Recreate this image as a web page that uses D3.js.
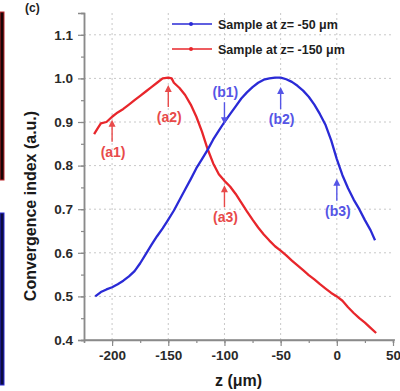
<!DOCTYPE html>
<html>
<head>
<meta charset="utf-8">
<script src="https://cdn.jsdelivr.net/npm/d3@7"></script>
<style>
  body { margin: 0; background: #fff; }
  svg { display: block; font-family: Arial, "Liberation Sans", sans-serif; font-weight: bold; }
</style>
</head>
<body>
<div id="chart"></div>
<script>
// z positions (μm) and convergence index for the two samples
const blueZ = [-215, -210, -205, -200, -195, -190, -185, -180, -175, -170, -165, -160, -155, -150, -145, -140, -135, -130, -125, -120, -115, -110, -105, -100, -95, -90, -85, -80, -75, -70, -65, -60, -55, -50, -45, -40, -35, -30, -25, -20, -15, -10, -5, 0, 5, 10, 15, 20, 25, 30, 34]
const blueV = [0.500, 0.510, 0.516, 0.521, 0.528, 0.536, 0.546, 0.558, 0.576, 0.597, 0.618, 0.638, 0.656, 0.676, 0.697, 0.721, 0.745, 0.769, 0.794, 0.815, 0.836, 0.860, 0.880, 0.900, 0.918, 0.936, 0.954, 0.968, 0.980, 0.990, 0.997, 1.000, 1.002, 1.002, 0.998, 0.992, 0.983, 0.972, 0.958, 0.940, 0.918, 0.893, 0.858, 0.815, 0.778, 0.748, 0.722, 0.700, 0.675, 0.652, 0.629]

const redZ = [-216, -213, -210, -205, -200, -195, -190, -185, -180, -175, -170, -165, -160, -155, -150, -147, -145, -140, -135, -130, -125, -120, -115, -110, -105, -100, -95, -90, -85, -80, -75, -70, -65, -60, -55, -50, -45, -40, -35, -30, -25, -20, -15, -10, -5, 0, 5, 10, 15, 20, 25, 30, 35]
const redV = [0.872, 0.885, 0.897, 0.900, 0.912, 0.922, 0.930, 0.940, 0.950, 0.960, 0.970, 0.980, 0.990, 1.000, 1.002, 1.000, 0.990, 0.978, 0.962, 0.940, 0.912, 0.878, 0.838, 0.805, 0.780, 0.765, 0.752, 0.735, 0.715, 0.695, 0.676, 0.658, 0.642, 0.628, 0.615, 0.605, 0.594, 0.582, 0.571, 0.560, 0.549, 0.539, 0.528, 0.518, 0.508, 0.500, 0.490, 0.475, 0.462, 0.450, 0.440, 0.428, 0.416]

const xTicks = [-200, -150, -100, -50, 0, 50]
const yTicks = [0.4, 0.5, 0.6, 0.7, 0.8, 0.9, 1.0, 1.1]
const legendLabels = ["Sample at z= -50 μm", "Sample at z= -150 μm"]

// annotations: label, z, value of the arrow tip, direction
const annRed = [
  { label: "(a1)", z: -200, v: 0.905, dir: "up" },
  { label: "(a2)", z: -150, v: 0.985, dir: "up" },
  { label: "(a3)", z: -100, v: 0.755, dir: "up" }
]
const annBlue = [
  { label: "(b1)", z: -100, v: 0.895, dir: "down" },
  { label: "(b2)", z: -50, v: 0.980, dir: "up" },
  { label: "(b3)", z: 0, v: 0.770, dir: "up" }
]

const RED = "#e8262b", BLUE = "#2a2ad6"
const RED_TXT = "#e84a4a", BLUE_TXT = "#5555e6"

const W = 400, H = 391
const margin = { top: 13, right: 7, bottom: 51, left: 84 }
const width = W - margin.left - margin.right,
    height = H - margin.top - margin.bottom

const svg = d3.select("#chart").append("svg")
    .attr("width", W)
    .attr("height", H)

// leftover edges of neighbouring panels
svg.append("rect").attr("x", 0).attr("y", 12).attr("width", 4).attr("height", 168)
    .attr("fill", "#1a0505").attr("stroke", "#c0282c").attr("stroke-width", 1)
svg.append("rect").attr("x", 0).attr("y", 213).attr("width", 4).attr("height", 172)
    .attr("fill", "#0c0c40").attr("stroke", "#2a2ad6").attr("stroke-width", 1)
svg.append("text").attr("x", 25).attr("y", 12).attr("font-size", 12).attr("fill", "#222").text("(c)")

const g = svg.append("g").attr("transform", "translate(" + margin.left + "," + margin.top + ")")

const x = d3.scaleLinear().domain([-225, 50]).range([0, 309])
const y = d3.scaleLinear().domain([0.4, 1.15]).range([height, 0])

// grid
g.append("g").selectAll("line").data(xTicks.filter(d => d > -225 && d < 50)).join("line")
    .attr("x1", d => x(d)).attr("x2", d => x(d)).attr("y1", 0).attr("y2", height)
    .attr("stroke", "#c8c8c8").attr("stroke-dasharray", "2,3")
g.append("g").selectAll("line").data(yTicks.filter(d => d > 0.4)).join("line")
    .attr("x1", 0).attr("x2", 309).attr("y1", d => y(d)).attr("y2", d => y(d))
    .attr("stroke", "#c8c8c8").attr("stroke-dasharray", "2,3")

// axes
const xAxis = g.append("g").attr("transform", "translate(0," + height + ")")
xAxis.call(d3.axisBottom(x).tickValues(d3.range(-225, 51, 25)).tickSize(3).tickFormat(""))
const xMain = g.append("g").attr("transform", "translate(0," + height + ")")
    .call(d3.axisBottom(x).tickValues(xTicks).tickSize(6).tickPadding(4).tickFormat(d => d))
const yAxis = g.append("g")
yAxis.call(d3.axisLeft(y).tickValues(d3.range(0.4, 1.16, 0.05)).tickSize(3).tickFormat(""))
const yMain = g.append("g")
    .call(d3.axisLeft(y).tickValues(yTicks).tickSize(6).tickPadding(5).tickFormat(d3.format(".1f")))

g.selectAll(".domain").attr("stroke", "#8a8a8a").attr("stroke-width", 1.5)
g.selectAll(".tick line").attr("stroke", "#8a8a8a").attr("stroke-width", 1.2)
g.selectAll(".tick text").attr("font-size", 13.5).attr("fill", "#2a2a2a").attr("font-weight", "bold")
xMain.selectAll(".domain").attr("d", "M0,0H311")

// axis titles
g.append("text").attr("x", 309 / 2).attr("y", height + 46).attr("text-anchor", "middle")
    .attr("font-size", 16).attr("fill", "#1a1a1a").text("z (μm)")
svg.append("text").attr("transform", "translate(36,206) rotate(-90)").attr("text-anchor", "middle")
    .attr("font-size", 16).attr("fill", "#1a1a1a").text("Convergence index (a.u.)")

// curves
const line = d3.line().x(d => x(d[0])).y(d => y(d[1]))
const blueData = d3.zip(blueZ, blueV), redData = d3.zip(redZ, redV)
g.append("path").datum(redData).attr("d", line).attr("fill", "none")
    .attr("stroke", RED).attr("stroke-width", 2.3).attr("stroke-linejoin", "round")
g.append("path").datum(blueData).attr("d", line).attr("fill", "none")
    .attr("stroke", BLUE).attr("stroke-width", 2.3).attr("stroke-linejoin", "round")

// annotations
function annotate(list, col) {
  list.forEach(a => {
    const px = x(a.z), py = y(a.v)
    const sgn = a.dir === "up" ? 1 : -1
    const tail = py + sgn * 22
    g.append("line").attr("x1", px).attr("x2", px).attr("y1", py + sgn * 4).attr("y2", tail)
        .attr("stroke", col).attr("stroke-width", 1.4)
    g.append("path").attr("d", "M" + px + "," + py + "L" + (px - 3.5) + "," + (py + sgn * 7) + "L" + (px + 3.5) + "," + (py + sgn * 7) + "Z")
        .attr("fill", col)
    const ty = a.dir === "up" ? tail + 15 : tail - 5
    g.append("text").attr("x", px + 1).attr("y", ty).attr("text-anchor", "middle")
        .attr("font-size", 14).attr("fill", col).text(a.label)
  })
}
annotate(annRed, RED_TXT)
annotate(annBlue, BLUE_TXT)

// legend
const legend = svg.append("g")
const legColors = [BLUE, RED]
legendLabels.forEach((lab, i) => {
  const ly = 24 + i * 25
  legend.append("line").attr("x1", 172).attr("x2", 212).attr("y1", ly).attr("y2", ly)
      .attr("stroke", legColors[i]).attr("stroke-width", 1.6)
  legend.append("circle").attr("cx", 191).attr("cy", ly).attr("r", 2).attr("fill", legColors[i])
  legend.append("text").attr("x", 218).attr("y", ly + 5).attr("font-size", 12.5)
      .attr("fill", "#1e1e1e").text(lab)
})
</script>
</body>
</html>
